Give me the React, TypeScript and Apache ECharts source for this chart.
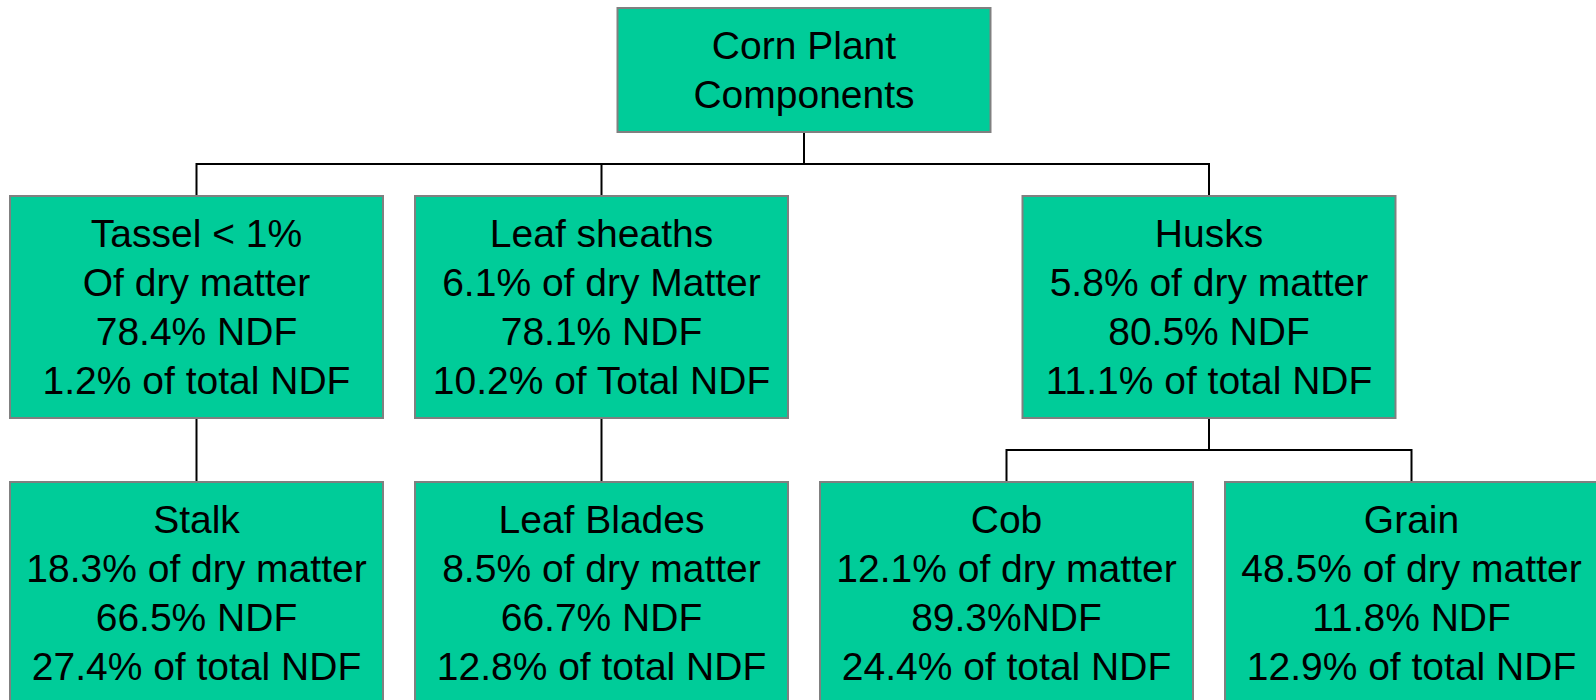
import React, { useEffect, useRef } from "react";
import * as echarts from "echarts";

// ---- Data ----
const nodeTitles = [
  "Corn Plant\nComponents",
  "Tassel < 1%\nOf dry matter",
  "Leaf sheaths\n6.1% of dry Matter",
  "Husks\n5.8% of dry matter",
  "Stalk\n18.3% of dry matter",
  "Leaf Blades\n8.5% of dry matter",
  "Cob\n12.1% of dry matter",
  "Grain\n48.5% of dry matter",
];
const nodeNdf = ["", "78.4% NDF", "78.1% NDF", "80.5% NDF", "66.5% NDF", "66.7% NDF", "89.3%NDF", "11.8% NDF"];
const nodeTotalNdf = [
  "",
  "1.2% of total NDF",
  "10.2% of Total NDF",
  "11.1% of total NDF",
  "27.4% of total NDF",
  "12.8% of total NDF",
  "24.4% of total NDF",
  "12.9% of total NDF",
];
const nodeParents = [-1, 0, 0, 0, 1, 2, 3, 3];
const nodeColumns = [1.5, 0, 1, 2.5, 0, 1, 2, 3];
const nodeLevels = [0, 1, 1, 1, 2, 2, 2, 2];

// ---- Layout / style constants ----
const BOX_W = 373;
const ROOT_H = 124;
const BOX_H = 222;
const GAP = 64;
const TOP = 8;
const FILL = "#00CC99";
const BORDER = "#808080";

function levelTop(level: number) {
  if (level === 0) return TOP;
  return TOP + ROOT_H + GAP + (level - 1) * (BOX_H + GAP);
}
function levelHeight(level: number) {
  return level === 0 ? ROOT_H : BOX_H;
}
function labelOf(i: number) {
  const parts = [nodeTitles[i]];
  if (nodeNdf[i]) parts.push(nodeNdf[i]);
  if (nodeTotalNdf[i]) parts.push(nodeTotalNdf[i]);
  return parts.join("\n");
}

export default function App() {
  const ref = useRef<HTMLDivElement>(null);
  useEffect(() => {
    if (!ref.current) return;
    const chart = echarts.init(ref.current, undefined, { renderer: "svg" });

    const nodeData = nodeColumns.map((c, i) => [c, nodeLevels[i], i]);
    const edgeData: number[][] = [];
    nodeParents.forEach((p, i) => {
      if (p >= 0) edgeData.push([nodeColumns[i], nodeColumns[p], nodeLevels[p], i]);
    });

    chart.setOption({
      animation: false,
      grid: { left: 0, right: 0, top: 0, bottom: 0 },
      xAxis: { type: "value", min: -196.5 / 405, max: (1596 - 196.5) / 405, show: false },
      yAxis: { type: "value", min: 0, max: 1, show: false },
      series: [
        {
          type: "custom",
          coordinateSystem: "cartesian2d",
          clip: false,
          silent: true,
          data: edgeData,
          renderItem: (params: any, api: any) => {
            const childX = api.coord([api.value(0), 0])[0];
            const parentX = api.coord([api.value(1), 0])[0];
            const pLevel = api.value(2);
            const pBottom = levelTop(pLevel) + levelHeight(pLevel);
            const cTop = levelTop(pLevel + 1);
            const midY = pBottom + GAP / 2;
            return {
              type: "polyline",
              shape: {
                points: [
                  [parentX, pBottom],
                  [parentX, midY],
                  [childX, midY],
                  [childX, cTop],
                ],
              },
              style: { stroke: "#000", lineWidth: 2, fill: "none" },
            };
          },
        },
        {
          type: "custom",
          coordinateSystem: "cartesian2d",
          clip: false,
          silent: true,
          data: nodeData,
          renderItem: (params: any, api: any) => {
            const cx = api.coord([api.value(0), 0])[0];
            const level = api.value(1);
            const idx = api.value(2);
            const top = levelTop(level);
            const h = levelHeight(level);
            return {
              type: "group",
              children: [
                {
                  type: "rect",
                  shape: { x: cx - BOX_W / 2, y: top, width: BOX_W, height: h },
                  style: { fill: FILL, stroke: BORDER, lineWidth: 2 },
                },
                {
                  type: "text",
                  style: {
                    text: labelOf(idx),
                    x: cx,
                    y: top + h / 2,
                    align: "center",
                    verticalAlign: "middle",
                    fontSize: 39,
                    fontFamily: "'Liberation Sans', Arial, sans-serif",
                    lineHeight: 49,
                    fill: "#000",
                  },
                },
              ],
            };
          },
        },
      ],
    });
    return () => chart.dispose();
  }, []);
  return (
    <div
      ref={ref}
      style={{ position: "absolute", left: 0, top: 0, width: 1596, height: 700, background: "#fff" }}
    />
  );
}
